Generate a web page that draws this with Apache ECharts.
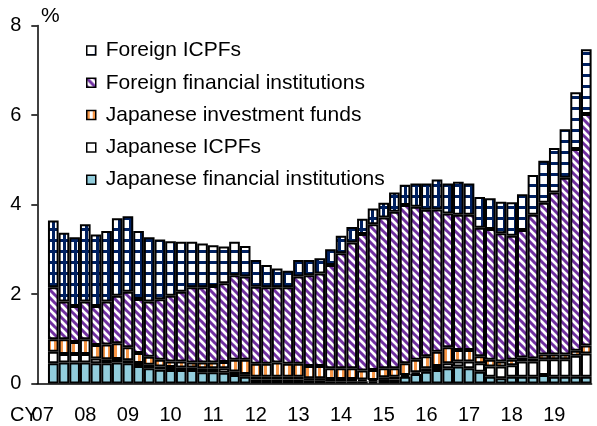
<!DOCTYPE html>
<html><head><meta charset="utf-8">
<script src="https://cdn.jsdelivr.net/npm/echarts@6/dist/echarts.min.js"></script>
<style>html,body{margin:0;padding:0;background:#fff}#c{width:597px;height:426px}</style>
</head><body><div id="c"></div>
<script>
// Year tick labels (CY2007 .. CY2019), quarterly categories
const yearLabels = ['07','08','09','10','11','12','13','14','15','16','17','18','19'];
const quarterNames = ['Q1','Q2','Q3','Q4'];
const yTicks = [0, 2, 4, 6, 8];

// Series values (% , quarterly; first quarter has no bar)
const japaneseFinancial = [null, .45,.47,.47,.47,.45,.45,.47,.45,.39,.34, .31,.30,.30,.30,.25,.25,.24,.19,.15,.09, .09,.09,.09,.09,.06,.06,.05,.05,.05,.05, .04,.08,.09,.15,.21,.26,.30,.34,.38,.34, .26,.15,.12,.15,.15,.15,.19,.15,.15,.15, .15];
const japaneseICPFs = [null, .26,.19,.19,.19,.11,.09,.08,.07,.07,.08, .07,.07,.06,.06,.09,.09,.10,.08,.06,.06, .06,.06,.06,.06,.06,.06,.05,.05,.05,.04, .04,.06,.06,.04,.04,.08,.09,.11,.11,.15, .19,.23,.26,.26,.34,.34,.35,.39,.39,.47, .52];
const japaneseFunds = [null, .28,.33,.27,.33,.30,.33,.35,.29,.22,.18, .15,.12,.13,.11,.13,.13,.14,.26,.32,.29, .29,.32,.29,.29,.27,.27,.24,.24,.24,.20, .22,.20,.19,.26,.28,.27,.32,.36,.26,.26, .16,.15,.11,.12,.09,.07,.11,.11,.11,.11, .18];
const foreignFinancial = [null, 1.16,.84,.80,.84,.87,.96,1.06,1.24,1.21,1.23, 1.35,1.47,1.56,1.68,1.68,1.71,1.76,1.89,1.86,1.72, 1.71,1.68,1.71,1.95,2.03,2.07,2.31,2.57,2.81,3.05, 3.26,3.37,3.50,3.54,3.42,3.27,3.18,2.99,3.02,3.02, 2.87,2.92,2.87,2.77,2.85,3.21,3.39,3.62,3.95,4.51, 5.17];
const foreignICPFs = [null, 1.49,1.54,1.54,1.73,1.60,1.58,1.73,1.69,1.52,1.44, 1.34,1.22,1.12,1.02,.98,.91,.82,.75,.68,.60, .50,.42,.37,.37,.34,.34,.35,.39,.35,.34, .35,.33,.43,.45,.52,.59,.67,.67,.74,.70, .69,.69,.70,.75,.80,.89,.94,.99,1.08,1.27, 1.45];

const categories = [];
yearLabels.forEach(y => quarterNames.forEach(q => categories.push(y + q)));

function pat(w, h, draw) {
  const c = document.createElement('canvas');
  c.width = w; c.height = h;
  const g = c.getContext('2d');
  g.fillStyle = '#fff'; g.fillRect(0, 0, w, h);
  draw(g, w, h);
  return { image: c, repeat: 'repeat' };
}
const navyPat = pat(11, 11, g => { g.fillStyle = '#002060'; g.fillRect(0, 8, 11, 3); g.fillRect(8, 0, 3, 11); });
const purplePat = pat(8, 8, g => {
  g.strokeStyle = '#7030A0'; g.lineWidth = 3; g.beginPath();
  for (let x = -8; x <= 8; x += 8) { g.moveTo(x - 1, -1); g.lineTo(x + 9, 9); }
  g.stroke();
});
const orangePat = pat(6, 1, g => { g.fillStyle = '#F79646'; g.fillRect(0, 0, 3, 1); });

const FONT = 'Liberation Sans';
const border = { borderColor: '#000', borderWidth: 2 };
function bar(name, data, color) {
  return {
    name, type: 'bar', stack: 'total', data, barCategoryGap: '0%',
    itemStyle: Object.assign({ color }, border),
    emphasis: { disabled: true }
  };
}

const chart = echarts.init(document.getElementById('c'));
chart.setOption({
  animation: false,
  grid: { left: 37.3, right: 5.4, top: 25.5, bottom: 42.5, outerBoundsMode: 'none' },
  legend: {
    orient: 'vertical', left: 86, top: 40, padding: 0,
    itemWidth: 9, itemHeight: 9, itemGap: 11.3, icon: 'rect',
    data: ['Foreign ICPFs', 'Foreign financial institutions', 'Japanese investment funds', 'Japanese ICPFs', 'Japanese financial institutions'],
    itemStyle: { borderColor: '#000', borderWidth: 1.5 },
    textStyle: { fontFamily: FONT, fontSize: 21, color: '#000', lineHeight: 20, padding: [0, 0, 0, 5] },
    selectedMode: false
  },
  xAxis: {
    type: 'category', data: categories, boundaryGap: true,
    axisLine: { lineStyle: { color: '#000', width: 1.5 } },
    axisTick: { interval: 3, length: 5, lineStyle: { color: '#000', width: 1.5 } },
    axisLabel: {
      interval: 3, margin: 22, fontFamily: FONT, fontSize: 20, color: '#000',
      formatter: (v, i) => (i % 4 === 0 ? yearLabels[i / 4] : '')
    }
  },
  yAxis: {
    type: 'value', min: yTicks[0], max: yTicks[yTicks.length - 1], interval: 2,
    splitLine: { show: false },
    axisLine: { show: true, lineStyle: { color: '#000', width: 1.5 } },
    axisTick: { show: true, length: 6, lineStyle: { color: '#000', width: 1.5 } },
    axisLabel: { margin: 16, fontFamily: FONT, fontSize: 20, color: '#000' }
  },
  graphic: [
    { type: 'text', left: 41, top: 6, style: { text: '%', fontFamily: FONT, fontSize: 21, fill: '#000' } },
    { type: 'text', left: 10, top: 405, style: { text: 'CY', fontFamily: FONT, fontSize: 20, fill: '#000' } }
  ],
  series: [
    bar('Japanese financial institutions', japaneseFinancial, '#92CDDC'),
    bar('Japanese ICPFs', japaneseICPFs, '#ffffff'),
    bar('Japanese investment funds', japaneseFunds, orangePat),
    bar('Foreign financial institutions', foreignFinancial, purplePat),
    bar('Foreign ICPFs', foreignICPFs, navyPat)
  ]
});
</script></body></html>
